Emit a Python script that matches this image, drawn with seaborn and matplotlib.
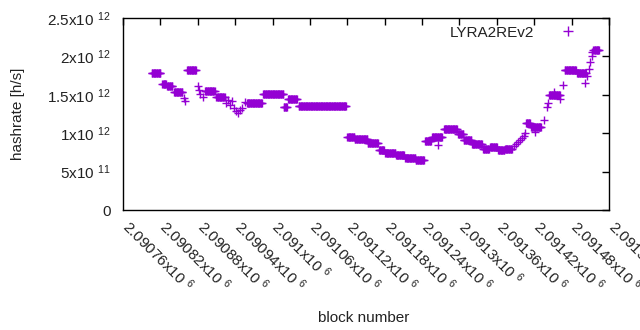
import numpy as np
import pandas as pd
import matplotlib
matplotlib.use("Agg")
import matplotlib.pyplot as plt
import matplotlib.transforms as mtransforms
from matplotlib.lines import Line2D
import seaborn as sns

# runs of blocks sharing one hashrate, value in 1e12 h/s
seg_start = [2090806, 2090823, 2090831, 2090842, 2090858, 2090860, 2090863, 2090880,
             2090882, 2090884, 2090888, 2090892, 2090910, 2090925, 2090928, 2090932,
             2090935, 2090938, 2090941, 2090945, 2090948, 2090951, 2090956, 2090959,
             2090985, 2091018, 2091025, 2091042, 2091120, 2091132, 2091153, 2091171,
             2091181, 2091198, 2091213, 2091230, 2091245, 2091256, 2091265, 2091275,
             2091298, 2091307, 2091320, 2091338, 2091349, 2091362, 2091373, 2091388,
             2091391, 2091394, 2091397, 2091400, 2091403, 2091405, 2091407, 2091415,
             2091421, 2091436, 2091441, 2091442, 2091444, 2091452, 2091461, 2091466,
             2091469, 2091489, 2091501, 2091505, 2091508, 2091510, 2091512,
             2091513, 2091515]
seg_end = [2090820, 2090829, 2090839, 2090855, 2090858, 2090860, 2090877, 2090880,
           2090882, 2090884, 2090888, 2090907, 2090923, 2090925, 2090928, 2090932,
           2090935, 2090938, 2090941, 2090945, 2090948, 2090951, 2090956, 2090983,
           2091017, 2091023, 2091039, 2091118, 2091131, 2091152, 2091169, 2091179,
           2091197, 2091211, 2091229, 2091243, 2091254, 2091272, 2091265, 2091296,
           2091306, 2091319, 2091336, 2091347, 2091360, 2091372, 2091384, 2091388,
           2091391, 2091394, 2091397, 2091400, 2091403, 2091405, 2091413, 2091431,
           2091421, 2091436, 2091441, 2091442, 2091461, 2091452, 2091461, 2091466,
           2091487, 2091503, 2091501, 2091505, 2091508, 2091510, 2091512,
           2091513, 2091524]
seg_rate = [1.79, 1.64, 1.62, 1.53, 1.46, 1.42, 1.82, 1.61,
            1.56, 1.51, 1.47, 1.55, 1.47, 1.39, 1.43, 1.37,
            1.42, 1.33, 1.29, 1.26, 1.30, 1.33, 1.41, 1.39,
            1.51, 1.34, 1.44, 1.36, 0.955, 0.925, 0.87, 0.78,
            0.74, 0.72, 0.68, 0.645, 0.90, 0.95, 0.85, 1.06,
            0.99, 0.91, 0.86, 0.80, 0.815, 0.78, 0.79, 0.83,
            0.86, 0.885, 0.91, 0.94, 0.97, 1.00, 1.13, 1.087,
            1.02, 1.17, 1.34, 1.39, 1.50, 1.54, 1.45, 1.63,
            1.82, 1.79, 1.65, 1.745, 1.836, 1.927, 2.005,
            2.057, 2.08]

x_ticks = [2090760 + 60 * i for i in range(14)]
y_ticks = [0, 0.5e12, 1e12, 1.5e12, 2e12, 2.5e12]
y_labels = ["0", "5x10 $^{11}$", "1x10 $^{12}$", "1.5x10 $^{12}$",
            "2x10 $^{12}$", "2.5x10 $^{12}$"]

blocks = np.concatenate([np.arange(s, e + 1) for s, e in zip(seg_start, seg_end)])
rates = np.concatenate([np.full(e - s + 1, r * 1e12)
                        for s, e, r in zip(seg_start, seg_end, seg_rate)])
df = pd.DataFrame({"block": blocks, "hashrate": rates})

purple = "#9400D3"
txt = "#222222"

sns.set_style("white")
plt.rcParams["font.family"] = ["Liberation Sans", "DejaVu Sans"]
plt.rcParams["mathtext.fontset"] = "custom"
plt.rcParams["mathtext.rm"] = "Liberation Sans"
plt.rcParams["mathtext.it"] = "Liberation Sans"
plt.rcParams["mathtext.default"] = "rm"

fig = plt.figure(figsize=(6.4, 3.3), dpi=100)
ax = fig.add_axes([123 / 640, 1 - 210 / 330, 486 / 640, 192 / 330])

sns.scatterplot(data=df, x="block", y="hashrate", marker="+", color=purple,
                s=40, linewidth=1.0, legend=False, ax=ax)

ax.set_xlim(2090760, 2091540)
ax.set_ylim(0, 2.5e12)
ax.set_xticks(x_ticks)
ax.set_xticklabels([f"{v / 1e6:g}x10 $^{{6}}$" for v in x_ticks],
                   rotation=-45, ha="left", va="top", rotation_mode="anchor")
ax.set_yticks(y_ticks)
ax.set_yticklabels(y_labels)
ax.tick_params(direction="in", length=5, width=1, color="black",
               top=True, right=True, labelsize=11, labelcolor=txt)
ax.tick_params(axis="y", pad=9)
ax.tick_params(axis="x", pad=9)
shift = mtransforms.ScaledTranslation(0.09, 0.06, fig.dpi_scale_trans)
for lab in ax.get_xticklabels():
    lab.set_transform(lab.get_transform() + shift)
for sp in ax.spines.values():
    sp.set_visible(True)
    sp.set_color("black")
    sp.set_linewidth(1)

ax.set_xlabel("block number", fontsize=11, color=txt)
ax.set_ylabel("hashrate [h/s]", fontsize=11, color=txt)
ax.xaxis.set_label_coords(241 / 486, -101 / 192)
ax.yaxis.set_label_coords(-98 / 486, 0.5)

handle = Line2D([], [], marker="+", color=purple, linestyle="none",
                markersize=7, markeredgewidth=1.0)
ax.legend([handle], ["LYRA2REv2"], loc="upper right", frameon=False,
          markerfirst=False, fontsize=11, handletextpad=1.2,
          borderaxespad=0.3, handlelength=2.0, labelcolor=txt,
          bbox_to_anchor=(1 - 15 / 486, 1 + 3 / 192))

fig.savefig("out.png", dpi=100)
